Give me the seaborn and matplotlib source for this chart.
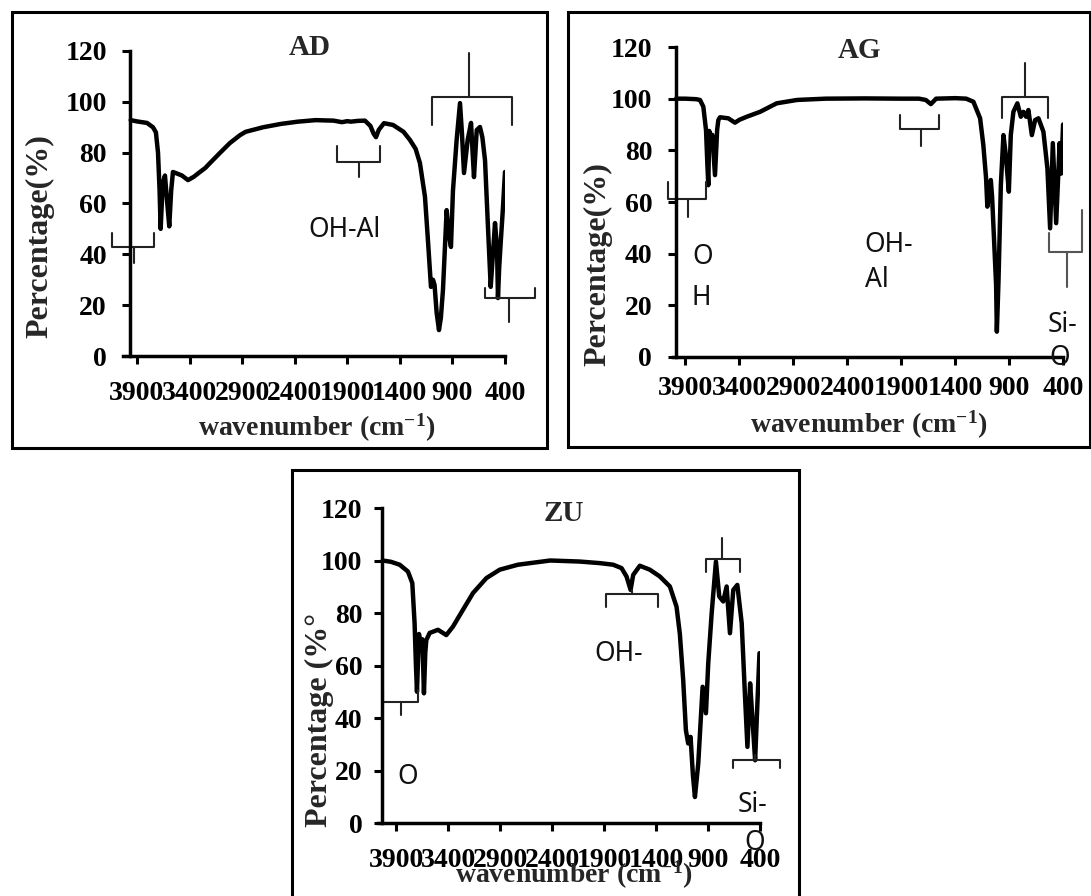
import matplotlib
matplotlib.use("Agg")
import matplotlib.pyplot as plt
import seaborn as sns
import pandas as pd
from matplotlib.patches import Rectangle

# ---------------- data ----------------
xtick_vals = [3900, 3400, 2900, 2400, 1900, 1400, 900, 400]
xtick_labels = ["3900", "3400", "2900", "2400", "1900", "1400", "900", "400"]
ytick_vals = [0, 20, 40, 60, 80, 100, 120]

ad_wn = [3960, 3900, 3805, 3748, 3720, 3700, 3685, 3675, 3655, 3634, 3612, 3593, 3575, 3558,
         3520, 3472, 3415, 3360, 3301, 3250, 3206, 3111, 3016, 2920, 2867, 2700, 2533, 2370,
         2200, 2030, 1950, 1900, 1865, 1800, 1732, 1680, 1650, 1627, 1600, 1551, 1465, 1365,
         1304, 1250, 1209, 1161, 1133, 1104, 1085, 1070, 1050, 1028, 1010, 990, 955, 935, 914,
         895, 860, 828, 810, 790, 755, 723, 708, 695, 669, 638, 615, 590, 562, 536, 515, 495,
         476, 467, 455, 441, 420, 400]
ad_pct = [92.8, 92.3, 91.7, 90.0, 88.0, 80.0, 65.0, 50.0, 68.0, 71.0, 60.0, 51.0, 65.0, 72.4,
          71.8, 71.0, 69.2, 70.5, 72.4, 74.0, 75.9, 79.9, 83.8, 86.9, 88.2, 90.0, 91.3, 92.2,
          92.8, 92.6, 92.0, 92.4, 92.2, 92.5, 92.6, 90.5, 87.5, 86.1, 89.0, 91.6, 90.9, 88.2,
          85.0, 81.5, 75.9, 62.6, 45.6, 27.2, 30.0, 28.0, 17.0, 10.2, 15.0, 26.0, 57.4, 48.0, 42.9,
          65.0, 85.0, 99.5, 88.0, 72.0, 85.0, 91.7, 80.0, 70.4, 88.9, 90.1, 86.0, 77.0, 50.8, 27.2,
          40.0, 52.3, 42.9, 22.8, 35.0, 44.5, 58.0, 72.4]

ag_wn = [3985, 3900, 3800, 3764, 3733, 3708, 3696, 3687, 3678, 3662, 3650, 3625, 3605, 3594,
         3579, 3502, 3440, 3400, 3331, 3208, 3054, 2866, 2600, 2238, 1900, 1736, 1674, 1627,
         1578, 1400, 1300, 1233, 1171, 1141, 1116, 1104, 1090, 1072, 1060, 1048, 1023, 1016,
         1008, 1001, 979, 955, 933, 905, 887, 863, 826, 794, 770, 745, 724, 692, 662, 631, 585,
         548, 523, 498, 467, 435, 421, 403]
ag_pct = [100.0, 100.0, 99.8, 99.5, 96.9, 87.8, 75.0, 66.5, 87.5, 81.4, 86.0, 70.4, 88.0, 91.7,
          92.8, 92.4, 90.7, 91.8, 93.0, 94.9, 98.2, 99.5, 100.0, 100.1, 100.0, 100.0, 99.5, 97.9,
          100.0, 100.2, 100.0, 98.8, 92.4, 82.0, 69.3, 58.2, 63.0, 68.5, 62.0, 51.0, 27.9, 9.8,
          20.0, 29.1, 66.6, 85.9, 78.2, 64.0, 85.9, 94.9, 98.2, 93.0, 94.9, 93.0, 95.6, 85.9,
          91.7, 92.4, 87.2, 73.0, 49.8, 82.8, 51.8, 82.8, 71.0, 90.0]

zu_wn = [4030, 3950, 3867, 3787, 3745, 3723, 3710, 3700, 3690, 3681, 3668, 3658, 3648, 3633,
         3620, 3610, 3578, 3498, 3418, 3354, 3258, 3161, 3032, 2904, 2728, 2418, 2134, 1941,
         1813, 1732, 1684, 1645, 1620, 1556, 1460, 1363, 1267, 1203, 1171, 1139, 1113, 1091,
         1068, 1045, 1026, 994, 952, 920, 898, 865, 824, 792, 754, 721, 689, 657, 618, 576, 544,
         521, 495, 470, 447, 425, 405]
zu_pct = [100.0, 99.5, 98.4, 95.8, 91.4, 76.1, 60.0, 50.0, 62.0, 72.0, 69.0, 67.2, 70.0, 49.4,
          65.0, 69.7, 72.4, 73.6, 71.6, 74.8, 81.2, 87.6, 93.3, 96.5, 98.4, 100.0, 99.6, 99.0,
          98.4, 97.1, 93.9, 88.8, 94.5, 98.0, 96.5, 93.9, 90.1, 82.4, 72.0, 54.5, 35.4, 30.3,
          32.8, 18.0, 9.9, 22.7, 51.9, 41.8, 60.8, 79.9, 99.6, 86.3, 84.4, 90.1, 72.3, 88.8, 90.7,
          76.1, 48.1, 29.0, 53.2, 38.0, 23.9, 45.6, 64.7]

# brackets: (x_left, x_right, y_bar, y_left_end, y_right_end, x_stem, y_stem_end)
ad_brackets = [(4142, 3738, 42.9, 48.4, 48.4, 3928, 36.6),
               (1998, 1589, 76.3, 82.6, 82.6, 1789, 70.4),
               (1094, 334, 101.9, 90.9, 90.9, 743, 119.2),
               (590, 115, 22.8, 26.8, 26.8, 362, 13.4)]
ag_brackets = [(4063, 3706, 61.1, 67.8, 67.8, 3878, 54.3),
               (1909, 1548, 88.2, 93.7, 93.7, 1721, 81.8),
               (967, 539, 100.7, 92.4, 92.4, 758, 113.7),
               (529, 231, 40.5, 48.0, 56.9, 363, 27.2)]
zu_brackets = [(4028, 3691, 46.2, 50.6, 50.6, 3851, 41.1),
               (1877, 1380, 87.2, 82.4, 82.4, 1636, 88.9),
               (920, 593, 100.5, 95.8, 95.8, 769, 108.6),
               (661, 205, 24.0, 20.8, 20.8, 449, 26.0)]

# annotation texts: (text, x, y, ha)
ad_texts = [("OH-Al", 1922, 49.6, "center")]
ag_texts = [("O", 3838, 38.8, "left"), ("H", 3838, 22.7, "left"),
            ("OH-", 2238, 43.3, "left"), ("Al", 2238, 29.8, "left"),
            ("Si-", 545, 12.4, "left"), ("O", 435, -0.4, "center")]
zu_texts = [("O", 3893, 17.6, "left"), ("OH-", 1995, 64.4, "left"),
            ("Si-", 612, 6.8, "left"), ("O", 455, -7.7, "center")]

# ---------------- style ----------------
sns.set_style("ticks")
plt.rcParams["font.family"] = ["Liberation Serif", "DejaVu Serif"]
plt.rcParams["font.weight"] = "bold"
plt.rcParams["mathtext.fontset"] = "custom"
plt.rcParams["mathtext.rm"] = "Liberation Serif:bold"
plt.rcParams["mathtext.bf"] = "Liberation Serif:bold"
plt.rcParams["mathtext.default"] = "bf"

fig = plt.figure(figsize=(10.91, 8.96), dpi=100)

SERIF = ["Liberation Serif", "DejaVu Serif"]
SANS = ["Noto Sans", "DejaVu Sans"]

panels = [
    dict(name="AD", wn=ad_wn, pct=ad_pct, rect=[123/1091, 1-356/896, 382/1091, 305/896],
         xl=4033, spine=3962, br=ad_brackets, tx=ad_texts, ylab="Percentage(%)",
         ylab_pos=(-0.217, 0.393), xlab_pos=(0.508, -0.236), title_pos=(0.49, 1.01),
         xpad=12, ypad=11, box=(12, 12, 547, 448), brc=["#222222"]*4),
    dict(name="AG", wn=ag_wn, pct=ag_pct, rect=[673.4/1091, 1-357/896, 390/1091, 310/896],
         xl=4010, spine=3988, br=ag_brackets, tx=ag_texts, ylab="Percentage(%)",
         ylab_pos=(-0.193, 0.30), xlab_pos=(0.50, -0.219), title_pos=(0.478, 0.99),
         xpad=8, ypad=11, box=(567.5, 12, 1090, 447), brc=["#222222"]*3 + ["#555555"]),
    dict(name="ZU", wn=zu_wn, pct=zu_pct, rect=[378/1091, 1-823/896, 382/1091, 315/896],
         xl=4075, spine=4037, br=zu_brackets, tx=zu_texts, ylab="Percentage (%°",
         ylab_pos=(-0.152, 0.327), xlab_pos=(0.513, -0.165), title_pos=(0.487, 0.984),
         xpad=12, ypad=8, box=(292, 470, 799, 905), brc=["#222222"]*4),
]

for p in panels:
    ax = fig.add_axes(p["rect"])
    df = pd.DataFrame({"wavenumber": p["wn"], "pct": p["pct"]})
    sns.lineplot(data=df, x="wavenumber", y="pct", ax=ax, color="black", lw=3.2,
                 sort=False, estimator=None)
    ax.set_xlim(p["xl"], 400)
    ax.set_ylim(0, 120)
    ax.spines["top"].set_visible(False)
    ax.spines["right"].set_visible(False)
    ax.spines["left"].set_position(("data", p["spine"]))
    for s in ("left", "bottom"):
        ax.spines[s].set_linewidth(2.5)
        ax.spines[s].set_color("black")
    ax.set_xticks(xtick_vals)
    ax.set_xticklabels(xtick_labels, fontfamily=SERIF, fontweight="bold", fontsize=20)
    ax.set_yticks(ytick_vals)
    ax.set_yticklabels([str(v) for v in ytick_vals], fontfamily=SERIF, fontweight="bold",
                       fontsize=20)
    ax.tick_params(axis="x", direction="out", length=6, width=2.2, pad=p["xpad"], colors="black")
    ax.tick_params(axis="y", direction="out", length=6, width=2.2, pad=p["ypad"], colors="black")
    ax.set_xlabel("wavenumber (cm$^{-1}$)", fontfamily=SERIF, fontweight="bold",
                  fontsize=20)
    ax.xaxis.set_label_coords(*p["xlab_pos"])
    ax.xaxis.label.set_va("center")
    ax.set_ylabel(p["ylab"], fontfamily=SERIF, fontweight="bold", fontsize=23)
    ax.yaxis.set_label_coords(*p["ylab_pos"])
    ax.yaxis.label.set_va("center")
    ax.patch.set_alpha(0)
    ax.text(p["title_pos"][0], p["title_pos"][1], p["name"], transform=ax.transAxes,
            ha="center", va="center", fontfamily=SERIF, fontweight="bold", fontsize=21)
    for (xa, xb, yb, yla, yra, xs, ys), c in zip(p["br"], p["brc"]):
        ax.plot([xa, xa, xb, xb], [yla, yb, yb, yra], color=c, lw=1.5, clip_on=False,
                solid_joinstyle="round")
        ax.plot([xs, xs], [yb, ys], color=c, lw=1.5, clip_on=False)
    for (t, x, y, ha) in p["tx"]:
        ax.text(x, y, t, ha=ha, va="center", fontfamily=SANS, fontweight="normal",
                fontsize=19, color="#111111")
    x0, y0, x1, y1 = p["box"]
    fig.patches.append(Rectangle((x0/1091, 1-y1/896), (x1-x0)/1091, (y1-y0)/896,
                                 transform=fig.transFigure, fill=False, edgecolor="black",
                                 lw=2.2, zorder=0))

fig.savefig("out.png", dpi=100)
